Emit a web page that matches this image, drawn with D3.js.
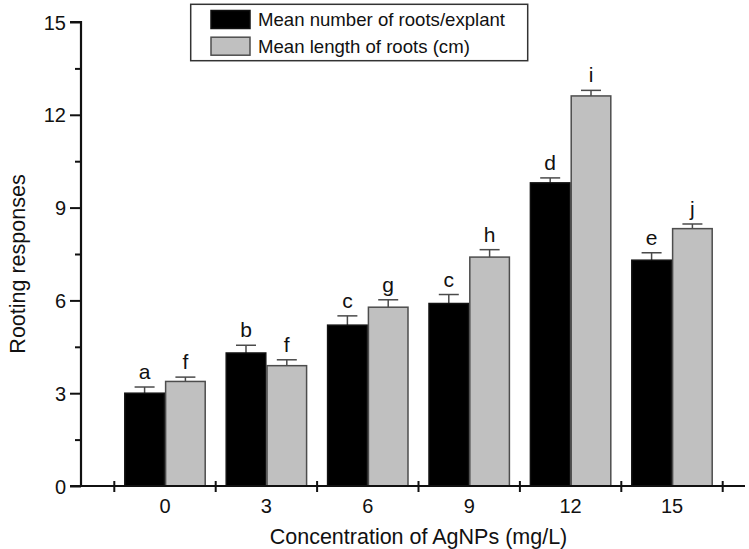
<!DOCTYPE html>
<html>
<head>
<meta charset="utf-8">
<script src="https://cdn.jsdelivr.net/npm/d3@7"></script>
<style>
  body { margin: 0; background: #fff; }
  svg text { font-family: "Liberation Sans", Arial, sans-serif; fill: #111; }
</style>
</head>
<body>
<div></div>
<script>
// data
const concentrations = ["0", "3", "6", "9", "12", "15"];
const series = ["Mean number of roots/explant", "Mean length of roots (cm)"];
const rootNumber = [3.0, 4.3, 5.2, 5.9, 9.8, 7.3];
const rootNumberErr = [0.2, 0.25, 0.3, 0.29, 0.16, 0.24];
const rootLength = [3.38, 3.89, 5.78, 7.4, 12.61, 8.32];
const rootLengthErr = [0.14, 0.19, 0.24, 0.24, 0.18, 0.15];
const numberLetters = ["a", "b", "c", "c", "d", "e"];
const lengthLetters = ["f", "f", "g", "h", "i", "j"];
const yTicks = [0, 3, 6, 9, 12, 15];
const yMinorTicks = [1.5, 4.5, 7.5, 10.5, 13.5];

const colors = ["#000000", "#c0c0c0"];

const canvas = d3.select("div");
const svg = canvas.append("svg").attr("width", 749).attr("height", 549);

const axisX = 81;
const y = d3.scaleLinear().domain([0, 15]).range([486, 22]);
const x0 = d3.scaleBand().domain(concentrations).range([114.3, 722.7]);
const x1 = d3.scaleBand().domain(series).range([10.5, x0.bandwidth() - 10.5]).paddingInner(0.03);

// bars
const rows = concentrations.map((c, i) => ({
  c: c,
  vals: [
    { s: series[0], v: rootNumber[i], e: rootNumberErr[i], l: numberLetters[i], k: 0 },
    { s: series[1], v: rootLength[i], e: rootLengthErr[i], l: lengthLetters[i], k: 1 }
  ]
}));

const groups = svg.selectAll("g.grp")
  .data(rows)
  .enter()
  .append("g")
  .attr("class", "grp")
  .attr("transform", (d) => "translate(" + x0(d.c) + ",0)");

const items = groups.selectAll("g.item")
  .data((d) => d.vals)
  .enter()
  .append("g");

// error bars
items.append("line")
  .attr("x1", (d) => x1(d.s) + x1.bandwidth() / 2)
  .attr("x2", (d) => x1(d.s) + x1.bandwidth() / 2)
  .attr("y1", (d) => y(d.v))
  .attr("y2", (d) => y(d.v + d.e))
  .attr("stroke", "#4a4a4a")
  .attr("stroke-width", 1.5);

items.append("line")
  .attr("x1", (d) => x1(d.s) + x1.bandwidth() / 2 - 10)
  .attr("x2", (d) => x1(d.s) + x1.bandwidth() / 2 + 10)
  .attr("y1", (d) => y(d.v + d.e))
  .attr("y2", (d) => y(d.v + d.e))
  .attr("stroke", "#4a4a4a")
  .attr("stroke-width", 1.5);

items.append("rect")
  .attr("x", (d) => x1(d.s))
  .attr("y", (d) => y(d.v))
  .attr("width", x1.bandwidth())
  .attr("height", (d) => y(0) - y(d.v))
  .attr("fill", (d) => colors[d.k])
  .attr("stroke", (d) => d.k === 0 ? "#111" : "#4d4d4d")
  .attr("stroke-width", 1.5);

items.append("text")
  .attr("x", (d) => x1(d.s) + x1.bandwidth() / 2)
  .attr("y", (d) => y(d.v + d.e) - 8)
  .attr("text-anchor", "middle")
  .style("font-size", "21px")
  .text((d) => d.l);

// y axis
const yAxis = svg.append("g")
  .attr("transform", "translate(" + axisX + ",0)")
  .call(d3.axisLeft(y).tickValues(yTicks).tickSize(11).tickPadding(4).tickFormat(d3.format("d")));
yAxis.selectAll("text").style("font-size", "20px").attr("dy", "0.35em");

const yMinor = svg.append("g")
  .attr("transform", "translate(" + axisX + ",0)")
  .call(d3.axisLeft(y).tickValues(yMinorTicks).tickSize(6).tickFormat(""));
yMinor.select(".domain").remove();

svg.selectAll(".tick line").attr("stroke", "#111").attr("stroke-width", 2);
yAxis.select(".domain").attr("stroke", "#111").attr("stroke-width", 2.2)
  .attr("d", "M" + (-11) + "," + y(15) + "H0V" + y(0));

// x axis
svg.append("line")
  .attr("x1", axisX - 11)
  .attr("x2", 745)
  .attr("y1", y(0))
  .attr("y2", y(0))
  .attr("stroke", "#111")
  .attr("stroke-width", 2.2);

const bounds = concentrations.map((c) => x0(c)).concat([x0.range()[1]]);
svg.selectAll("line.xtick")
  .data(bounds)
  .enter()
  .append("line")
  .attr("class", "xtick")
  .attr("x1", (d) => d)
  .attr("x2", (d) => d)
  .attr("y1", y(0) - 5)
  .attr("y2", y(0) + 6)
  .attr("stroke", "#111")
  .attr("stroke-width", 2);

svg.selectAll("text.xlab")
  .data(concentrations)
  .enter()
  .append("text")
  .attr("class", "xlab")
  .attr("x", (d) => x0(d) + x0.bandwidth() / 2)
  .attr("y", 513)
  .attr("text-anchor", "middle")
  .style("font-size", "20px")
  .text((d) => d);

// axis titles
svg.append("text")
  .attr("x", 418.5)
  .attr("y", 544)
  .attr("text-anchor", "middle")
  .style("font-size", "21.5px")
  .text("Concentration of AgNPs (mg/L)");

svg.append("text")
  .attr("transform", "translate(25,264) rotate(-90)")
  .attr("text-anchor", "middle")
  .style("font-size", "21.5px")
  .text("Rooting responses");

// legend
const legend = svg.append("g");
legend.append("rect")
  .attr("x", 190.7)
  .attr("y", 4.3)
  .attr("width", 337)
  .attr("height", 56.4)
  .attr("fill", "#fff")
  .attr("stroke", "#333")
  .attr("stroke-width", 1.5);

const legendItems = legend.selectAll("g.li")
  .data(series)
  .enter()
  .append("g")
  .attr("transform", (d, i) => "translate(0," + (i * 26.7) + ")");

legendItems.append("rect")
  .attr("x", 211)
  .attr("y", 10.5)
  .attr("width", 39)
  .attr("height", 18)
  .attr("fill", (d, i) => colors[i])
  .attr("stroke", (d, i) => i === 0 ? "#111" : "#4d4d4d")
  .attr("stroke-width", 1.5);

legendItems.append("text")
  .attr("x", 258)
  .attr("y", 26)
  .style("font-size", "18.6px")
  .text((d) => d);
</script>
</body>
</html>
